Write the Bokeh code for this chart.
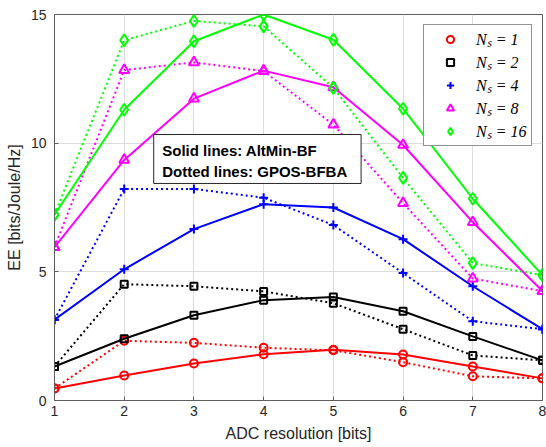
from bokeh.plotting import figure
from bokeh.models import (Range1d, Legend, LegendItem, BoxAnnotation, Label,
                          FixedTicker)
from bokeh.embed import file_html
from bokeh.resources import INLINE

# ---------------- data ----------------
bits = [1, 2, 3, 4, 5, 6, 7, 8]
x_ticks = [1, 2, 3, 4, 5, 6, 7, 8]
y_ticks = [0, 5, 10, 15]

legend_labels = ["Nₛ = 1", "Nₛ = 2", "Nₛ = 4", "Nₛ = 8", "Nₛ = 16"]

# Solid lines: AltMin-BF
altmin_ns1 = [0.47, 0.97, 1.44, 1.80, 1.97, 1.79, 1.32, 0.86]
altmin_ns2 = [1.32, 2.40, 3.31, 3.90, 4.02, 3.47, 2.49, 1.56]
altmin_ns4 = [3.14, 5.10, 6.66, 7.63, 7.50, 6.27, 4.44, 2.77]
altmin_ns8 = [5.96, 9.35, 11.73, 12.82, 12.17, 9.93, 6.93, 4.25]
altmin_ns16 = [7.22, 11.30, 13.96, 15.00, 14.02, 11.34, 7.84, 4.87]

# Dotted lines: GPOS-BFBA
gpos_ns1 = [0.47, 2.32, 2.24, 2.05, 1.95, 1.49, 0.94, 0.86]
gpos_ns2 = [1.32, 4.52, 4.44, 4.24, 3.78, 2.77, 1.75, 1.56]
gpos_ns4 = [3.14, 8.22, 8.22, 7.88, 6.82, 4.95, 3.08, 2.77]
gpos_ns8 = [5.96, 12.84, 13.14, 12.80, 10.72, 7.67, 4.74, 4.25]
gpos_ns16 = [7.22, 14.00, 14.75, 14.54, 12.15, 8.65, 5.34, 4.87]

altmin = [altmin_ns1, altmin_ns2, altmin_ns4, altmin_ns8, altmin_ns16]
gpos = [gpos_ns1, gpos_ns2, gpos_ns4, gpos_ns8, gpos_ns16]

colors = ["#FF0000", "#000000", "#0000FF", "#FF00FF", "#00FF00"]
markers = ["circle", "square", "cross", "triangle", "diamond"]
msizes = [8, 7, 9, 10, 12]

# ---------------- figure ----------------
p = figure(width=546, height=447, output_backend="svg", toolbar_location=None,
           x_range=Range1d(1, 8), y_range=Range1d(0, 15),
           min_border_left=54, min_border_right=4, min_border_top=14,
           min_border_bottom=47, background_fill_color="white",
           border_fill_color="white")

axis_color = "#5e5e5e"
text_color = "#262626"
font = "Liberation Sans"

p.outline_line_color = axis_color
p.outline_line_width = 1

p.xaxis.ticker = FixedTicker(ticks=x_ticks)
p.yaxis.ticker = FixedTicker(ticks=y_ticks)
for ax in (p.xaxis[0], p.yaxis[0]):
    ax.axis_line_color = axis_color
    ax.major_tick_line_color = axis_color
    ax.major_tick_in = 4
    ax.major_tick_out = 0
    ax.minor_tick_line_color = None
    ax.major_label_text_font = font
    ax.major_label_text_font_size = "14px"
    ax.major_label_text_color = text_color
    ax.axis_label_text_font = font
    ax.axis_label_text_font_size = "16px"
    ax.axis_label_text_font_style = "normal"
    ax.axis_label_text_color = text_color

p.xaxis.axis_label = "ADC resolution [bits]"
p.yaxis.axis_label = "EE [bits/Joule/Hz]"
p.xaxis.major_label_standoff = 5
p.yaxis.major_label_standoff = 8
p.xaxis.axis_label_standoff = 6
p.yaxis.axis_label_standoff = 5

p.xgrid.ticker = FixedTicker(ticks=x_ticks)
p.ygrid.ticker = FixedTicker(ticks=y_ticks)
p.grid.grid_line_color = "#dcdcdc"
p.grid.grid_line_width = 1

legend_items = []
for i in range(5):
    c = colors[i]
    p.line(bits, gpos[i], line_color=c, line_width=2, line_dash="2 3")
    p.scatter(bits, gpos[i], marker=markers[i], size=msizes[i],
              line_color=c, line_width=2, fill_alpha=0)
    p.line(bits, altmin[i], line_color=c, line_width=2)
    r = p.scatter(bits, altmin[i], marker=markers[i], size=msizes[i],
                  line_color=c, line_width=2, fill_alpha=0)
    legend_items.append(LegendItem(label=legend_labels[i], renderers=[r]))

legend = Legend(items=legend_items, location="top_right", margin=10,
                padding=3, spacing=1, glyph_height=18, glyph_width=46,
                label_height=18, label_width=52, label_standoff=3,
                label_text_font="Liberation Serif", label_text_font_size="16px",
                label_text_font_style="italic", label_text_color="#000000",
                border_line_color="#262626", border_line_width=1,
                background_fill_color="white", background_fill_alpha=1)
p.add_layout(legend)

# annotation box
box = BoxAnnotation(left=2.423, right=5.398, top=10.338, bottom=8.434,
                    fill_color="white", fill_alpha=1.0,
                    line_color="#262626", line_width=1, line_alpha=1.0)
p.add_layout(box)
p.add_layout(Label(x=2.545, y=9.72, text="Solid lines: AltMin-BF",
                   text_font=font, text_font_style="bold", text_font_size="15px",
                   text_baseline="middle", text_color="#000000"))
p.add_layout(Label(x=2.545, y=8.90, text="Dotted lines: GPOS-BFBA",
                   text_font=font, text_font_style="bold", text_font_size="15px",
                   text_baseline="middle", text_color="#000000"))

open("out.html", "w").write(file_html(p, INLINE))
